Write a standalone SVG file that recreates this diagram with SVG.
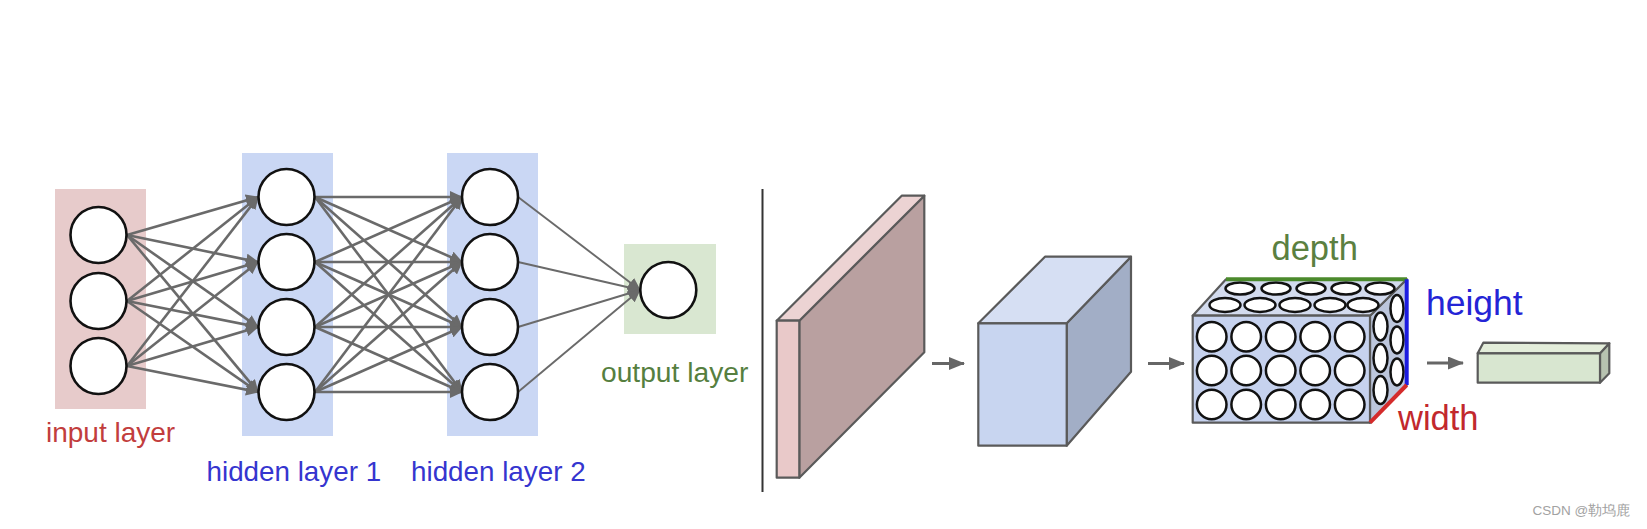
<svg xmlns="http://www.w3.org/2000/svg" width="1647" height="529" viewBox="0 0 1647 529">
<style>
.lbl{font-family:"Liberation Sans",Arial,sans-serif}
.n{fill:#fff;stroke:#111;stroke-width:2.6}
.e{stroke:#6a6a6a;stroke-width:2.6;fill:none;marker-end:url(#ah)}
.e2{stroke:#6a6a6a;stroke-width:1.9;fill:none;marker-end:url(#ah)}
.box{stroke:#5a5a5a;stroke-width:2.2;stroke-linejoin:round}
.cc{fill:#fff;stroke:#111;stroke-width:2.5}
.va{stroke:#666;stroke-width:3;fill:none;marker-end:url(#vh)}
</style>
<defs>
<marker id="ah" markerUnits="userSpaceOnUse" markerWidth="13" markerHeight="12" refX="12" refY="6" orient="auto">
<path d="M0,0 L13,6 L0,12 z" fill="#6a6a6a"/>
</marker>
<marker id="vh" markerUnits="userSpaceOnUse" markerWidth="16" markerHeight="13" refX="15" refY="6.5" orient="auto">
<path d="M0,0 L16,6.5 L0,13 z" fill="#666"/>
</marker>
</defs>
<rect width="1647" height="529" fill="#fff"/>

<g id="layer-bg">
<rect x="55" y="189" width="91" height="220" fill="#e7cbcb"/>
<rect x="242" y="153" width="91" height="283" fill="#cad7f4"/>
<rect x="447" y="153" width="91" height="283" fill="#cad7f4"/>
<rect x="624" y="244" width="92" height="90" fill="#d9e7d1"/>
</g>

<g id="connectors">
<line class="e" x1="127" y1="235" x2="258" y2="197"/>
<line class="e" x1="127" y1="235" x2="258" y2="262"/>
<line class="e" x1="127" y1="235" x2="258" y2="327"/>
<line class="e" x1="127" y1="235" x2="258" y2="392"/>
<line class="e" x1="127" y1="301" x2="258" y2="197"/>
<line class="e" x1="127" y1="301" x2="258" y2="262"/>
<line class="e" x1="127" y1="301" x2="258" y2="327"/>
<line class="e" x1="127" y1="301" x2="258" y2="392"/>
<line class="e" x1="127" y1="366" x2="258" y2="197"/>
<line class="e" x1="127" y1="366" x2="258" y2="262"/>
<line class="e" x1="127" y1="366" x2="258" y2="327"/>
<line class="e" x1="127" y1="366" x2="258" y2="392"/>

<line class="e" x1="315" y1="197" x2="462" y2="197"/>
<line class="e" x1="315" y1="197" x2="462" y2="262"/>
<line class="e" x1="315" y1="197" x2="462" y2="327"/>
<line class="e" x1="315" y1="197" x2="462" y2="392"/>
<line class="e" x1="315" y1="262" x2="462" y2="197"/>
<line class="e" x1="315" y1="262" x2="462" y2="262"/>
<line class="e" x1="315" y1="262" x2="462" y2="327"/>
<line class="e" x1="315" y1="262" x2="462" y2="392"/>
<line class="e" x1="315" y1="327" x2="462" y2="197"/>
<line class="e" x1="315" y1="327" x2="462" y2="262"/>
<line class="e" x1="315" y1="327" x2="462" y2="327"/>
<line class="e" x1="315" y1="327" x2="462" y2="392"/>
<line class="e" x1="315" y1="392" x2="462" y2="197"/>
<line class="e" x1="315" y1="392" x2="462" y2="262"/>
<line class="e" x1="315" y1="392" x2="462" y2="327"/>
<line class="e" x1="315" y1="392" x2="462" y2="392"/>

<line class="e2" x1="518" y1="197" x2="640" y2="290"/>
<line class="e2" x1="518" y1="262" x2="640" y2="290"/>
<line class="e2" x1="518" y1="327" x2="640" y2="290"/>
<line class="e2" x1="518" y1="392" x2="640" y2="290"/>

<line class="va" x1="932" y1="363.5" x2="964" y2="363.5"/>
<line class="va" x1="1148" y1="363.5" x2="1184" y2="363.5"/>
<line class="va" x1="1427" y1="363" x2="1463" y2="363"/>
</g>

<g id="input-layer">
<circle class="n" cx="98.5" cy="235" r="28"/>
<circle class="n" cx="98.5" cy="301" r="28"/>
<circle class="n" cx="98.5" cy="366" r="28"/>
<text class="lbl" x="46" y="442" font-size="28" fill="#c23d3d">input layer</text>
</g>

<g id="hidden-layer-1">
<circle class="n" cx="286.5" cy="197" r="28"/>
<circle class="n" cx="286.5" cy="262" r="28"/>
<circle class="n" cx="286.5" cy="327" r="28"/>
<circle class="n" cx="286.5" cy="392" r="28"/>
<text class="lbl" x="206.5" y="481" font-size="27.8" fill="#3535cf">hidden layer 1</text>
</g>

<g id="hidden-layer-2">
<circle class="n" cx="490" cy="197" r="28"/>
<circle class="n" cx="490" cy="262" r="28"/>
<circle class="n" cx="490" cy="327" r="28"/>
<circle class="n" cx="490" cy="392" r="28"/>
<text class="lbl" x="411" y="481" font-size="27.8" fill="#3535cf">hidden layer 2</text>
</g>

<g id="output-layer">
<circle class="n" cx="668.3" cy="290" r="28"/>
<text class="lbl" x="601" y="382" font-size="28.2" fill="#567f3f">output layer</text>
</g>

<g id="divider">
<line x1="762.5" y1="189" x2="762.5" y2="492" stroke="#333" stroke-width="2"/>
</g>

<g id="input-volume">
<polygon class="box" points="799.3,320.7 924.3,195.7 924.3,352.3 799.3,477.7" fill="#b9a0a0"/>
<polygon class="box" points="776.7,320.7 901.7,195.7 924.3,195.7 799.3,320.7" fill="#ecd3d3"/>
<rect class="box" x="776.7" y="320.7" width="22.6" height="157" fill="#e9c9c9"/>
</g>

<g id="conv-volume">
<polygon class="box" points="1066.7,323.3 1131,256.7 1131,371.7 1066.7,445.7" fill="#a2aec6"/>
<polygon class="box" points="978.3,323.3 1045,256.7 1131,256.7 1066.7,323.3" fill="#d6dff3"/>
<rect class="box" x="978.3" y="323.3" width="88.4" height="122.4" fill="#c8d5f0"/>
</g>

<g id="neuron-volume">
<polygon class="box" points="1370,315.7 1406.7,279.3 1406.7,385 1370,422.7" fill="#bcc6dc"/>
<polygon class="box" points="1192.7,315.7 1226,279.3 1406.7,279.3 1370,315.7" fill="#d3dbee"/>
<rect class="box" x="1192.7" y="315.7" width="177.3" height="107" fill="#c6d2ee"/>
<g>
<ellipse class="cc" cx="1240" cy="288.5" rx="14.5" ry="6"/>
<ellipse class="cc" cx="1276" cy="288.5" rx="14.5" ry="6"/>
<ellipse class="cc" cx="1311" cy="288.5" rx="14.5" ry="6"/>
<ellipse class="cc" cx="1346" cy="288.5" rx="14.5" ry="6"/>
<ellipse class="cc" cx="1380" cy="288.5" rx="14.5" ry="6"/>
<ellipse class="cc" cx="1225" cy="305" rx="15.5" ry="7"/>
<ellipse class="cc" cx="1260" cy="305" rx="15.5" ry="7"/>
<ellipse class="cc" cx="1295" cy="305" rx="15.5" ry="7"/>
<ellipse class="cc" cx="1330" cy="305" rx="15.5" ry="7"/>
<ellipse class="cc" cx="1363" cy="305" rx="15.5" ry="7"/>
<ellipse class="cc" cx="1397" cy="308.5" rx="6.5" ry="13.5"/>
<ellipse class="cc" cx="1397" cy="340" rx="6.5" ry="13.5"/>
<ellipse class="cc" cx="1397" cy="372" rx="6.5" ry="13.5"/>
<ellipse class="cc" cx="1380.5" cy="326.5" rx="7" ry="14"/>
<ellipse class="cc" cx="1380.5" cy="358" rx="7" ry="14"/>
<ellipse class="cc" cx="1380.5" cy="390" rx="7" ry="14"/>
<circle class="cc" cx="1211.7" cy="336.7" r="14.8"/>
<circle class="cc" cx="1246.2" cy="336.7" r="14.8"/>
<circle class="cc" cx="1280.7" cy="336.7" r="14.8"/>
<circle class="cc" cx="1315.2" cy="336.7" r="14.8"/>
<circle class="cc" cx="1349.7" cy="336.7" r="14.8"/>
<circle class="cc" cx="1211.7" cy="370.5" r="14.8"/>
<circle class="cc" cx="1246.2" cy="370.5" r="14.8"/>
<circle class="cc" cx="1280.7" cy="370.5" r="14.8"/>
<circle class="cc" cx="1315.2" cy="370.5" r="14.8"/>
<circle class="cc" cx="1349.7" cy="370.5" r="14.8"/>
<circle class="cc" cx="1211.7" cy="404.5" r="14.8"/>
<circle class="cc" cx="1246.2" cy="404.5" r="14.8"/>
<circle class="cc" cx="1280.7" cy="404.5" r="14.8"/>
<circle class="cc" cx="1315.2" cy="404.5" r="14.8"/>
<circle class="cc" cx="1349.7" cy="404.5" r="14.8"/>
</g>
<line x1="1226" y1="279.3" x2="1407" y2="279.3" stroke="#4b8a2c" stroke-width="4"/>
<line x1="1406.7" y1="279.3" x2="1406.7" y2="385" stroke="#1c1ce0" stroke-width="4"/>
<line x1="1370" y1="422.7" x2="1406.7" y2="385" stroke="#d42b2b" stroke-width="4"/>
<text class="lbl" x="1271.5" y="260" font-size="34.5" fill="#5b8040">depth</text>
<text class="lbl" x="1426" y="315" font-size="35.5" fill="#2424d6">height</text>
<text class="lbl" x="1398" y="429.5" font-size="34.5" fill="#c2282d">width</text>
</g>

<g id="output-volume">
<polygon class="box" points="1600,353.3 1609.3,343.3 1609.3,373.3 1600,382.7" fill="#b7c2b0"/>
<polygon class="box" points="1477.7,353.3 1483.3,342.7 1609.3,343.3 1600,353.3" fill="#e3edda"/>
<rect class="box" x="1477.7" y="353.3" width="122.3" height="29.4" fill="#d8e6d0"/>
</g>

<text class="lbl" x="1532.5" y="515" font-size="13.5" fill="#a2a2a2" font-family="'Liberation Sans','Noto Sans CJK SC',sans-serif">CSDN @勒坞鹿</text>
</svg>
